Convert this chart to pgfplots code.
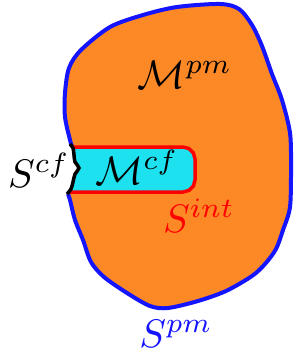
\documentclass[border=0pt]{standalone}
\usepackage{pgfplots}
\pgfplotsset{compat=1.18}
\definecolor{blobor}{RGB}{253,136,38}
\definecolor{cfcyan}{RGB}{30,225,240}
\definecolor{pmblue}{RGB}{20,20,255}
\begin{document}
\begin{tikzpicture}
\begin{axis}[
  scale only axis, width=295bp, height=358bp,
  xmin=0, xmax=295, ymin=0, ymax=358, y dir=reverse,
  hide axis, clip=false]
% frame for the bounding box
\addplot[draw=none] coordinates {(0,0) (295,358)};
% orange blob fill
\addplot[fill=blobor, draw=none, smooth, tension=0.5] coordinates {
(68,194) (70,200) (75,220) (83,240) (91,262) (104,277) (127,293) (150,306) (168,308)
(198,301) (226,291) (252,276) (265,264) (276,249) (283,230) (290,207) (291,167)
(290,133) (282,100) (272,74) (262,46) (252,25) (239,9) (220,4) (177,7) (143,15)
(110,27) (81,50) (69,68) (65,93) (65,117) (70,140) (72,146)
(74,155) (75,162) (78,168) (75,174) (73,182) (71,189) (68,194)};
% blue boundary
\addplot[draw=pmblue, line width=4bp, smooth, tension=0.5] coordinates {
(68,194) (70,200) (75,220) (83,240) (91,262) (104,277) (127,293) (150,306) (168,308)
(198,301) (226,291) (252,276) (265,264) (276,249) (283,230) (290,207) (291,167)
(290,133) (282,100) (272,74) (262,46) (252,25) (239,9) (220,4) (177,7) (143,15)
(110,27) (81,50) (69,68) (65,93) (65,117) (70,140) (72,146)};
% cyan inclusion
\addplot[fill=cfcyan, draw=none] coordinates {
(72,147) (183,147) (189,148.6) (193.4,153) (195,159) (195,180) (193.4,186) (189,190.4) (183,192)
(68,192) (71,189) (73,182) (75,174) (78,168) (75,162) (74,155) (72,147)};
% red interface
\addplot[draw=red, line width=3.5bp, line join=round] coordinates {
(72,147) (183,147) (189,148.6) (193.4,153) (195,159) (195,180) (193.4,186) (189,190.4) (183,192) (68,192)};
% black brace
\addplot[draw=black, line width=3.5bp, smooth, tension=0.6] coordinates {
(70,144) (73,148) (74,155) (75,162) (79,168) (75,174) (73,182) (71,189) (67,194)};
% labels
\node[anchor=base, inner sep=0pt, scale=4] at (axis cs:185,88) {$\mathcal{M}^{pm}$};
\node[anchor=base, inner sep=0pt, scale=4] at (axis cs:137,184) {$\mathcal{M}^{cf}$};
\node[anchor=base, inner sep=0pt, scale=4] at (axis cs:39,187) {$S^{cf}$};
\node[anchor=base, inner sep=0pt, scale=4, text=red] at (axis cs:199,232) {$S^{int}$};
\node[anchor=base, inner sep=0pt, scale=4, text=pmblue] at (axis cs:176,347) {$S^{pm}$};
\end{axis}
\end{tikzpicture}
\end{document}
